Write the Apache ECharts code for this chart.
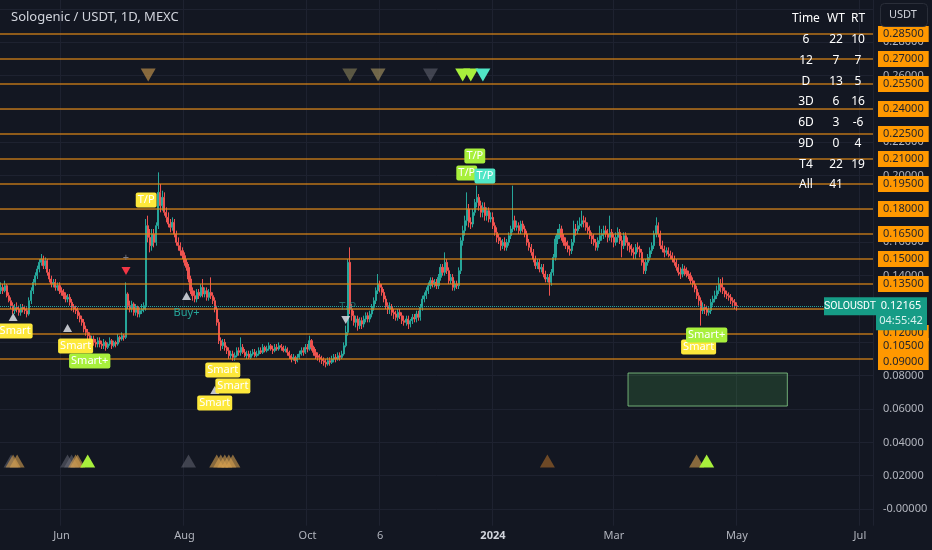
<!DOCTYPE html>
<html><head><meta charset="utf-8">
<script src="https://cdn.jsdelivr.net/npm/echarts@6/dist/echarts.min.js"></script>
<style>html,body{margin:0;padding:0;background:#131722;}#c{width:932px;height:550px;}</style>
</head><body><div id="c"></div>
<script>
// ---------- data ----------
const firstDay = '2023-05-02';
const axisDays = 433;
const opens = [.131,.133,.131,.134,.128,.125,.122,.119,.121,.120,
.118,.121,.120,.119,.117,.125,.131,.136,.140,.144,
.148,.150,.146,.149,.142,.138,.135,.136,.133,.134,
.131,.130,.128,.126,.127,.124,.121,.120,.119,.116,
.114,.112,.108,.106,.104,.101,.102,.100,.099,.101,
.099,.098,.100,.097,.099,.101,.098,.100,.099,.103,
.102,.104,.103,.129,.122,.120,.123,.118,.121,.117,
.119,.120,.122,.170,.163,.158,.165,.160,.170,.190,
.182,.187,.178,.175,.171,.169,.172,.165,.160,.158,
.155,.152,.148,.145,.138,.131,.128,.126,.130,.128,
.133,.129,.131,.127,.130,.128,.125,.120,.112,.101,
.098,.100,.097,.095,.092,.093,.091,.092,.095,.094,
.097,.094,.092,.093,.091,.093,.094,.092,.093,.095,
.094,.097,.095,.096,.098,.096,.095,.097,.096,.098,
.097,.095,.096,.094,.092,.090,.091,.089,.091,.093,
.095,.094,.097,.096,.101,.097,.094,.092,.091,.090,
.089,.088,.087,.089,.088,.090,.091,.090,.092,.091,
.093,.098,.106,.148,.120,.116,.112,.114,.110,.113,
.111,.114,.116,.114,.117,.121,.125,.131,.135,.133,
.130,.126,.122,.120,.121,.118,.117,.115,.118,.116,
.113,.112,.114,.111,.113,.115,.114,.117,.115,.121,
.126,.128,.131,.134,.137,.135,.136,.134,.139,.145,
.142,.148,.143,.137,.139,.133,.135,.134,.143,.161,
.167,.173,.180,.172,.171,.178,.184,.187,.182,.178,
.181,.176,.179,.174,.175,.170,.166,.163,.161,.158,
.160,.157,.160,.164,.168,.173,.169,.170,.167,.171,
.168,.165,.160,.157,.154,.150,.146,.148,.144,.145,
.141,.138,.139,.136,.142,.151,.162,.165,.168,.163,
.160,.158,.156,.155,.160,.168,.167,.170,.171,.173,
.172,.169,.167,.164,.162,.160,.157,.161,.164,.165,
.167,.165,.163,.166,.163,.160,.163,.166,.161,.158,
.164,.160,.158,.156,.154,.153,.157,.156,.154,.148,
.143,.148,.151,.155,.158,.165,.170,.165,.158,.156,
.154,.155,.153,.152,.150,.148,.145,.142,.141,.144,
.143,.141,.140,.137,.135,.132,.128,.125,.119,.121,
.120,.118,.119,.124,.126,.128,.131,.135,.133,.131,
.129,.128,.127,.125,.124,.122];
const closes = [.133,.131,.134,.128,.125,.122,.119,.121,.120,.118,
.121,.120,.119,.117,.125,.131,.136,.140,.144,.148,
.150,.146,.149,.142,.138,.135,.136,.133,.134,.131,
.130,.128,.126,.127,.124,.121,.120,.119,.116,.114,
.112,.108,.106,.104,.101,.102,.100,.099,.101,.099,
.098,.100,.097,.099,.101,.098,.100,.099,.103,.102,
.104,.103,.129,.122,.120,.123,.118,.121,.117,.119,
.120,.122,.170,.163,.158,.165,.160,.170,.190,.182,
.187,.178,.175,.171,.169,.172,.165,.160,.158,.155,
.152,.148,.145,.138,.131,.128,.126,.130,.128,.133,
.129,.131,.127,.130,.128,.125,.120,.112,.101,.098,
.100,.097,.095,.092,.093,.091,.092,.095,.094,.097,
.094,.092,.093,.091,.093,.094,.092,.093,.095,.094,
.097,.095,.096,.098,.096,.095,.097,.096,.098,.097,
.095,.096,.094,.092,.090,.091,.089,.091,.093,.095,
.094,.097,.096,.101,.097,.094,.092,.091,.090,.089,
.088,.087,.089,.088,.090,.091,.090,.092,.091,.093,
.098,.106,.148,.120,.116,.112,.114,.110,.113,.111,
.114,.116,.114,.117,.121,.125,.131,.135,.133,.130,
.126,.122,.120,.121,.118,.117,.115,.118,.116,.113,
.112,.114,.111,.113,.115,.114,.117,.115,.121,.126,
.128,.131,.134,.137,.135,.136,.134,.139,.145,.142,
.148,.143,.137,.139,.133,.135,.134,.143,.161,.167,
.173,.180,.172,.171,.178,.184,.187,.182,.178,.181,
.176,.179,.174,.175,.170,.166,.163,.161,.158,.160,
.157,.160,.164,.168,.173,.169,.170,.167,.171,.168,
.165,.160,.157,.154,.150,.146,.148,.144,.145,.141,
.138,.139,.136,.142,.151,.162,.165,.168,.163,.160,
.158,.156,.155,.160,.168,.167,.170,.171,.173,.172,
.169,.167,.164,.162,.160,.157,.161,.164,.165,.167,
.165,.163,.166,.163,.160,.163,.166,.161,.158,.164,
.160,.158,.156,.154,.153,.157,.156,.154,.148,.143,
.148,.151,.155,.158,.165,.170,.165,.158,.156,.154,
.155,.153,.152,.150,.148,.145,.142,.141,.144,.143,
.141,.140,.137,.135,.132,.128,.125,.119,.121,.120,
.118,.119,.124,.126,.128,.131,.135,.133,.131,.129,
.128,.127,.125,.124,.122,.12165];
const highs = [.136,.135,.137,.135,.130,.127,.124,.123,.124,.122,
.123,.123,.122,.121,.127,.133,.138,.142,.146,.150,
.153,.152,.151,.150,.144,.140,.138,.138,.136,.136,
.133,.132,.130,.129,.129,.126,.123,.122,.121,.118,
.116,.114,.110,.108,.106,.104,.104,.102,.103,.103,
.101,.102,.101,.100,.103,.102,.101,.101,.105,.104,
.106,.105,.136,.130,.125,.125,.124,.123,.122,.121,
.123,.124,.174,.176,.168,.168,.168,.172,.202,.195,
.191,.190,.181,.178,.174,.175,.174,.167,.163,.160,
.157,.154,.150,.147,.140,.133,.131,.132,.132,.135,
.138,.133,.133,.132,.139,.130,.127,.122,.114,.103,
.102,.102,.098,.097,.095,.095,.094,.097,.097,.103,
.099,.096,.095,.095,.095,.096,.096,.095,.097,.097,
.099,.098,.098,.100,.099,.098,.099,.099,.100,.099,
.098,.098,.097,.095,.093,.093,.092,.093,.095,.097,
.097,.099,.099,.104,.102,.098,.096,.094,.093,.092,
.091,.090,.091,.091,.092,.093,.093,.094,.094,.095,
.100,.110,.150,.157,.123,.119,.116,.116,.115,.115,
.116,.118,.118,.119,.123,.127,.133,.141,.137,.135,
.132,.128,.124,.124,.123,.120,.119,.120,.120,.118,
.116,.116,.116,.114,.117,.117,.119,.119,.123,.128,
.130,.133,.136,.139,.139,.138,.138,.141,.147,.147,
.154,.150,.145,.141,.141,.137,.137,.145,.163,.170,
.176,.190,.183,.175,.180,.186,.194,.189,.185,.184,
.184,.181,.181,.178,.178,.172,.169,.165,.163,.162,
.163,.162,.166,.170,.194,.176,.173,.172,.173,.173,
.170,.167,.162,.159,.156,.152,.150,.150,.147,.147,
.143,.141,.141,.144,.153,.164,.168,.171,.170,.165,
.163,.161,.158,.162,.173,.171,.173,.175,.179,.176,
.175,.172,.170,.166,.165,.162,.163,.170,.168,.170,
.170,.168,.176,.168,.165,.166,.169,.168,.164,.166,
.166,.163,.160,.159,.157,.159,.160,.158,.156,.150,
.150,.153,.157,.160,.167,.175,.172,.167,.161,.158,
.157,.157,.155,.154,.152,.150,.147,.145,.147,.146,
.145,.143,.142,.139,.137,.134,.130,.127,.124,.123,
.122,.121,.126,.128,.131,.134,.139,.138,.139,.133,
.131,.130,.129,.127,.126,.124];
const lows = [.129,.129,.130,.127,.124,.120,.117,.117,.118,.116,
.116,.118,.117,.115,.116,.123,.129,.134,.138,.142,
.146,.144,.144,.140,.136,.133,.133,.131,.131,.129,
.128,.126,.124,.124,.122,.119,.118,.117,.114,.112,
.110,.106,.104,.102,.099,.099,.098,.097,.097,.097,
.096,.096,.095,.096,.098,.096,.097,.097,.098,.100,
.101,.101,.102,.120,.118,.118,.116,.116,.115,.115,
.117,.118,.119,.160,.154,.155,.157,.158,.168,.178,
.179,.176,.172,.169,.166,.167,.163,.158,.155,.152,
.150,.146,.143,.136,.129,.125,.124,.124,.126,.127,
.127,.127,.125,.125,.126,.123,.118,.110,.099,.095,
.096,.095,.093,.090,.090,.089,.089,.091,.092,.092,
.093,.091,.090,.090,.090,.092,.091,.091,.092,.093,
.093,.094,.094,.095,.095,.093,.094,.095,.095,.095,
.094,.094,.092,.090,.088,.089,.087,.088,.090,.092,
.092,.093,.094,.095,.095,.092,.090,.089,.088,.087,
.086,.085,.086,.086,.087,.088,.088,.089,.089,.090,
.092,.097,.104,.117,.113,.110,.109,.107,.108,.108,
.109,.112,.112,.112,.115,.119,.123,.129,.130,.128,
.124,.120,.117,.117,.116,.114,.113,.113,.114,.111,
.110,.110,.108,.109,.111,.112,.112,.113,.113,.119,
.124,.126,.129,.132,.133,.133,.132,.132,.137,.140,
.140,.141,.135,.135,.131,.131,.132,.132,.141,.158,
.164,.170,.169,.168,.169,.176,.181,.179,.175,.175,
.173,.173,.172,.172,.168,.164,.160,.159,.155,.156,
.155,.155,.158,.162,.166,.167,.167,.165,.165,.166,
.163,.158,.155,.152,.148,.144,.144,.142,.142,.139,
.136,.136,.128,.134,.140,.149,.159,.162,.161,.158,
.156,.154,.152,.153,.158,.164,.165,.168,.169,.169,
.167,.165,.162,.159,.158,.155,.155,.159,.161,.162,
.163,.160,.161,.160,.157,.158,.160,.159,.151,.156,
.158,.155,.154,.152,.150,.150,.154,.151,.146,.141,
.141,.146,.149,.153,.156,.163,.163,.156,.154,.151,
.152,.151,.150,.148,.146,.143,.140,.138,.139,.140,
.139,.138,.135,.133,.130,.126,.122,.110,.117,.117,
.116,.116,.117,.122,.124,.126,.129,.130,.129,.127,
.126,.125,.123,.121,.120,.119];

const levels = [0.285,0.27,0.255,0.24,0.225,0.21,0.195,0.18,0.165,0.15,0.135,0.12,0.105,0.09];
const tickDates = ['2023-06-01','2023-08-01','2023-10-01','2023-11-06','2024-01-01','2024-03-01','2024-05-01','2024-07-01'];
const tickTexts = ['Jun','Aug','Oct','6','2024','Mar','May','Jul'];
const lastPrice = 0.12165;
const countdown = '04:55:42';
const symbolName = 'SOLOUSDT';
const titleText = 'Sologenic / USDT, 1D, MEXC';
const tableHead = ['Time','WT','RT'];
const tableRows = [['6','22','10'],['12','7','7'],['D','13','5'],['3D','6','16'],['6D','3','-6'],['9D','0','4'],['T4','22','19'],['All','41','']];
// signal boxes: day index, price, text, style
const boxIdx   = [7, 37, 44, 72, 110, 115, 106, 235, 231, 240, 346, 350];
const boxPrice = [.1068,.0978,.0888,.1854,.0834,.0738,.0636,.2118,.2016,.1998,.0972,.1044];
const boxText  = ['Smart','Smart','Smart+','T/P','Smart','Smart','Smart','T/P','T/P','T/P','Smart','Smart+'];
const boxKind  = ['yellow','yellow','lime','yellow','yellow','yellow','yellow','lime','lime','teal','yellow','lime'];
// plain text marks
const textIdx = [92, 172, 62];
const textPrice = [.1176, .1212, .1506];
const textText = ['Buy+', 'T/P', '+'];
const textKind = ['buy', 'tpfaint', 'plus'];
// small arrow marks
const arrowIdx = [6, 33, 92, 106, 171, 62];
const arrowPrice = [.1152, .1086, .1278, .0714, .1134, .1428];
const arrowDir = ['up','up','up','up','down','down'];
const arrowKind = ['white','white','white','white','white','red'];
// triangle rows
const topRowPrice = 0.2604;
const topRowIdx = [73, 173, 187, 213, 229, 233, 239];
const topRowKind = ['gold','olive','khaki','gray','lime','lime','teal'];
const botRowPrice = 0.0288;
const botRowIdx = [5, 6, 8, 33, 35, 37, 38, 43, 93, 107, 109, 111, 113, 115, 271, 345, 350];
const botRowKind = ['gray','gold','gold','gray','gray','gold','gold','lime','gray','gold','gold','gold','gold','gold','brown','gold','lime'];
// zone box
const zoneFrom = 311, zoneTo = 390, zoneLow = 0.0618, zoneHigh = 0.0816;

// ---------- styles ----------
const BG = '#131722', GRID = '#1e2230', TXT = '#b2b5be';
const UP = '#26a69a', DOWN = '#ef5350';
const boxColors = {yellow:'#fde83b', lime:'#a8f03c', teal:'#50e6c6'};
const markColors = {gold:'rgba(214,160,80,0.6)', olive:'rgba(150,140,95,0.55)', khaki:'rgba(175,155,100,0.6)', gray:'rgba(110,112,124,0.5)', lime:'#a8f03c', teal:'#50e6c6', brown:'rgba(150,95,40,0.7)', white:'rgba(210,212,220,0.9)', red:'#f23645'};
const textStyles = {buy:{color:'#26a69a',fontSize:11}, tpfaint:{color:'rgba(38,166,154,0.6)',fontSize:11}, plus:{color:'#787b86',fontSize:11}};
const labelShift = {0.12: 24, 0.105: 12, 0.09: 3};
const FONT = 'Noto Sans';

// ---------- build ----------
const dates = [];
const t0 = Date.parse(firstDay + 'T00:00:00Z');
for (let k = 0; k < axisDays; k++) dates.push(new Date(t0 + k * 86400000).toISOString().slice(0, 10));
const candles = opens.map((o, k) => [o, closes[k], lows[k], highs[k]]);
const isTick = (idx, val) => tickDates.indexOf(val) >= 0;

const boxData = boxIdx.map((d, k) => ({
  value: [d, boxPrice[k]],
  label: {show:true, position:'inside', formatter: boxText[k], backgroundColor: boxColors[boxKind[k]], opacity:1,
          color:'#ffffff', fontSize:11, fontFamily:FONT, padding:[2,2,1,2], borderRadius:2, lineHeight:12}
}));
const textData = textIdx.map((d, k) => ({
  value: [d, textPrice[k]],
  label: Object.assign({show:true, position:'inside', formatter: textText[k], fontFamily:FONT}, textStyles[textKind[k]])
}));
const arrowData = arrowIdx.map((d, k) => ({
  value: [d, arrowPrice[k]], symbolRotate: arrowDir[k] === 'down' ? 180 : 0,
  itemStyle: {color: markColors[arrowKind[k]], opacity:1}
}));
const topData = topRowIdx.map((d, k) => ({value:[d, topRowPrice], itemStyle:{color: markColors[topRowKind[k]], opacity:1}}));
const botData = botRowIdx.map((d, k) => ({value:[d, botRowPrice], itemStyle:{color: markColors[botRowKind[k]], opacity:1}}));

const levelLines = levels.map(v => ({
  yAxis: v,
  label: {offset: [0, labelShift[v] || 0]}
}));
levelLines.push({yAxis: lastPrice, lineStyle:{type:'dotted', color: UP, width:1}, label:{show:false}});

const chart = echarts.init(document.getElementById('c'), null, {renderer:'canvas'});
const option = {
  backgroundColor: BG,
  animation: false,
  textStyle: {fontFamily: FONT},
  title: {text: titleText, left: 6, top: 6, textStyle:{color:'#d1d4dc', fontSize:13, fontWeight:'normal', fontFamily:FONT}},
  grid: {left: 0, right: 59, top: 0, bottom: 24.3, containLabel:false, outerBoundsMode:'none'},
  xAxis: {
    type:'category', data: dates, boundaryGap: true,
    axisLine:{show:false}, axisTick:{show:false},
    axisLabel:{interval: isTick, color: TXT, fontSize: 11, margin: 5, fontFamily: FONT,
      formatter: v => { const s = tickTexts[tickDates.indexOf(v)]; return /^\d{4}$/.test(s) ? '{y|' + s + '}' : s; },
      rich:{y:{fontWeight:'bold', color:'#d1d4dc', fontSize:11, fontFamily:FONT}}},
    splitLine:{show:true, interval: isTick, lineStyle:{color: GRID, width:1}}
  },
  yAxis: {
    type:'value', position:'right', min:-0.01, max:0.3054, interval:0.01, scale:false,
    axisLine:{show:false}, axisTick:{show:false},
    axisLabel:{color: TXT, fontSize: 11, margin: 10, fontFamily: FONT,
      formatter: v => { const n = Math.round(v * 100); if (n < 0 || n > 30 || n % 2 !== 0) return ''; return n === 0 ? '-0.00000' : v.toFixed(5); }},
    splitLine:{show:true, lineStyle:{color:['rgba(0,0,0,0)', GRID], width:1}}
  },
  series: [
    {
      type:'candlestick', data: candles, barWidth: 1.6,
      itemStyle:{color: UP, color0: DOWN, borderColor: UP, borderColor0: DOWN, borderColorDoji: UP, borderWidth:1},
      markLine:{
        silent:true, symbol:['none','none'], animation:false, precision: 5,
        lineStyle:{color:'rgba(226,138,22,0.8)', width:1.6, type:'solid'},
        label:{show:true, position:'end', distance:5, formatter: p => Number(p.value).toFixed(5),
               backgroundColor:'#ff9800', color:'#1e222d', fontSize:11, fontFamily:FONT, padding:[2,5,1,5], lineHeight:13},
        data: levelLines
      },
      markArea:{
        silent:true,
        itemStyle:{color:'rgba(76,175,80,0.2)', borderColor:'rgba(129,199,132,0.85)', borderWidth:1},
        data:[[{xAxis: dates[zoneFrom], yAxis: zoneHigh}, {xAxis: dates[zoneTo], yAxis: zoneLow}]]
      },
      z: 2
    },
    {type:'scatter', symbol:'triangle', symbolSize:[15,13], symbolRotate:180, itemStyle:{opacity:1}, data: topData, silent:true, z:3},
    {type:'scatter', symbol:'triangle', symbolSize:[15,13], itemStyle:{opacity:1}, data: botData, silent:true, z:3},
    {type:'scatter', symbol:'triangle', symbolSize:[9,8], itemStyle:{opacity:1}, data: arrowData, silent:true, z:4},
    {type:'scatter', symbol:'rect', symbolSize:1, itemStyle:{color:'rgba(0,0,0,0)', opacity:1}, data: textData, silent:true, z:5},
    {type:'scatter', symbol:'rect', symbolSize:1, itemStyle:{color:'rgba(0,0,0,0)', opacity:1}, data: boxData, silent:true, z:6}
  ]
};
chart.setOption(option);

// overlays positioned through the chart's own y scale
const yLast = chart.convertToPixel({yAxisIndex:0}, lastPrice);
const g = [];
const colX = [806, 836, 858];
const rowY0 = 19, rowStep = 20.75;
tableHead.forEach((t, c) => g.push({type:'text', x: colX[c], y: rowY0, z:100,
  style:{text:t, fill:'#ffffff', font:'12px "Noto Sans"', textAlign:'center', textVerticalAlign:'middle'}}));
tableRows.forEach((row, r) => row.forEach((t, c) => g.push({type:'text', x: colX[c], y: rowY0 + (r + 1) * rowStep, z:100,
  style:{text:t, fill:'#ffffff', font:'12px "Noto Sans"', textAlign:'center', textVerticalAlign:'middle'}})));
g.push({type:'rect', shape:{x:880.5, y:3.5, width:47, height:23, r:4}, style:{fill:BG, stroke:'#2a2e39', lineWidth:1}, z:100});
g.push({type:'text', x:889, y:15, z:101, style:{text:'USDT', fill:'#d1d4dc', font:'11px "Noto Sans"', textVerticalAlign:'middle'}});
g.push({type:'rect', shape:{x:824, y:yLast - 9, width:52, height:18}, style:{fill:'#169c86'}, z:100});
g.push({type:'text', x:850, y:yLast, z:101, style:{text:symbolName, fill:'#ffffff', font:'10.5px Roboto', textAlign:'center', textVerticalAlign:'middle'}});
g.push({type:'rect', shape:{x:876, y:yLast - 9, width:51, height:33}, style:{fill:'#169c86'}, z:100});
g.push({type:'text', x:901, y:yLast, z:101, style:{text:lastPrice.toFixed(5), fill:'#ffffff', font:'11px "Noto Sans"', textAlign:'center', textVerticalAlign:'middle'}});
g.push({type:'text', x:901, y:yLast + 15, z:101, style:{text:countdown, fill:'#d8f2ee', font:'11px "Noto Sans"', textAlign:'center', textVerticalAlign:'middle'}});
chart.setOption({graphic: g});
</script>
</body></html>
